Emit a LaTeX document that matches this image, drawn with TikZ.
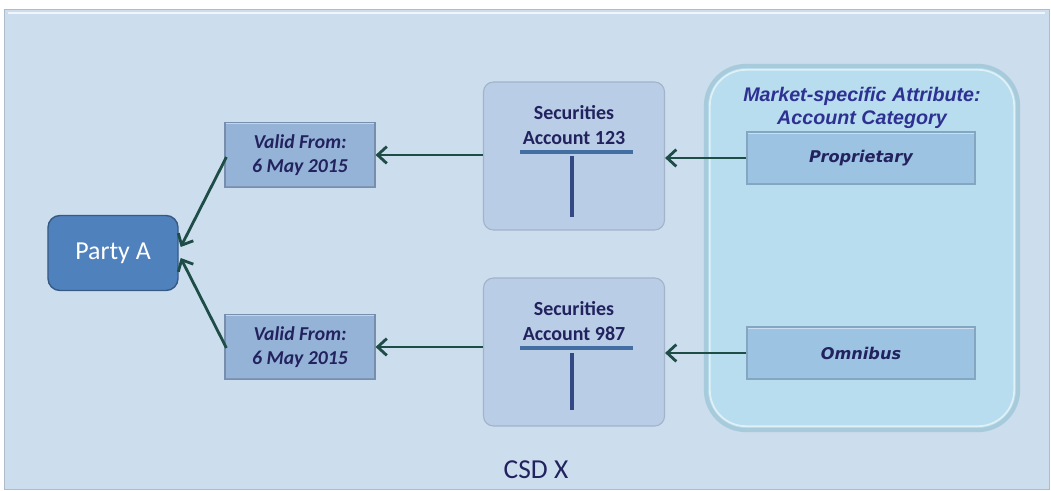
\documentclass[tikz,border=0pt]{standalone}
\usepackage{fontspec}
\setmainfont{Carlito}
\newfontfamily\arialfont{Liberation Sans}
\newfontfamily\verdfont{DejaVu Sans}
\usepackage{xcolor}
\usetikzlibrary{positioning,arrows.meta,calc}

\definecolor{panelbg}{HTML}{CCDDEE}
\definecolor{partyfill}{HTML}{4F81BD}
\definecolor{validfill}{HTML}{95B3D7}
\definecolor{secfill}{HTML}{B9CDE6}
\definecolor{attrfill}{HTML}{B7DDEE}
\definecolor{catfill}{HTML}{9DC3E3}
\definecolor{navytext}{HTML}{22225E}
\definecolor{titletext}{HTML}{2E3192}
\definecolor{arrowcol}{HTML}{1E4D47}

\begin{document}
\begin{tikzpicture}[x=0.025cm, y=-0.025cm,
  conn/.style={line width=2pt, draw=arrowcol, -{Straight Barb[length=6.5pt,width=12pt,line width=2pt]}},
  bevel/.style={path picture={
      \draw[white!45!#1, line width=2.5pt] (path picture bounding box.north west) -- (path picture bounding box.north east);
      \draw[#1!85!black, line width=2pt] (path picture bounding box.south west) -- (path picture bounding box.south east);}},
  validbox/.style={draw=validfill!80!black, fill=validfill, bevel=validfill, line width=0.8pt, minimum width=3.75cm, minimum height=1.625cm, align=center, text=navytext, font=\fontsize{14}{17}\selectfont\bfseries\itshape},
  secbox/.style={draw=secfill!88!black, fill=secfill, line width=0.8pt, rounded corners=0.25cm, minimum width=4.525cm, minimum height=3.7cm},
  seclabel/.style={align=center, text=navytext, font=\fontsize{14.2}{17.8}\selectfont\bfseries},
  catbox/.style={draw=catfill!85!black, fill=catfill, bevel=catfill, line width=0.8pt, minimum width=5.7cm, minimum height=1.3cm, text=navytext, font=\verdfont\fontsize{11.5}{14}\selectfont\bfseries\itshape},
  tbar/.style={line width=3.5pt, draw=partyfill!85!black},
  tstem/.style={line width=3.5pt, draw=navytext!60!partyfill}]

\useasboundingbox (0,0) rectangle (1051,491);

% Panel
\fill[white] (0,0) rectangle (1051,491);
\draw[fill=panelbg, draw=panelbg!85!black, line width=0.6pt] (4,9) rectangle (1049,489);
\draw[white!70!panelbg, line width=2pt] (8,13) -- (1045,13);

% Nodes
\node[draw=partyfill!70!black, fill=partyfill, line width=1pt, rounded corners=0.3cm, minimum width=3.25cm, minimum height=1.875cm, text=white, font=\fontsize{18.4}{22}\selectfont] (party) at (113,253) {Party A};

\node[validbox] (validtop) at (300,155) {Valid From:\\6 May 2015};
\node[validbox] (validbot) at (300,347) {Valid From:\\6 May 2015};

\node[secbox] (sectop) at (574,156) {};
\node[secbox] (secbot) at (574,352) {};
\node[seclabel, below=0.48cm of sectop.north] (sectoplbl) {Securities\\Account 123};
\node[seclabel, below=0.48cm of secbot.north] (secbotlbl) {Securities\\Account 987};

\node[draw=attrfill!92!black, fill=attrfill, line width=3pt, rounded corners=1cm, minimum width=7.8cm, minimum height=9.1cm] (attr) at (862,248) {};
\draw[white!55!attrfill, line width=1.2pt, rounded corners=0.9cm] ($(attr.north west)+(6,6)$) rectangle ($(attr.south east)+(-6,-6)$);
\node[align=center, text=titletext, font=\arialfont\fontsize{14}{17}\selectfont\bfseries\itshape, below=0.45cm of attr.north] (attrlbl) {Market-specific Attribute:\\Account Category};

\node[catbox] (prop) at (861,158) {Proprietary};
\node[catbox] (omni) at (861,353) {Omnibus};

% T-bars of the accounts
\draw[tbar] ($(sectop.center)+(-54,-4)$) -- ++(113,0);
\draw[tstem] ($(sectop.center)+(-2,0)$) -- ++(0,61);
\draw[tbar] ($(secbot.center)+(-54,-4)$) -- ++(113,0);
\draw[tstem] ($(secbot.center)+(-2,1)$) -- ++(0,57);

% Arrows
\draw[conn] (prop.west) -- (prop.west -| sectop.east);
\draw[conn] (omni.west) -- (omni.west -| secbot.east);
\draw[conn] (validtop.east -| sectop.west) -- (validtop.east);
\draw[conn] (validbot.east -| secbot.west) -- (validbot.east);
\draw[conn] ($(validtop.west)+(2,2)$) -- ($(party.east)+(2,-6)$);
\draw[conn] ($(validbot.west)+(2,1)$) -- ($(party.east)+(2,5)$);

% Caption
\node[text=navytext, font=\fontsize{19.5}{22}\selectfont] (csd) at (536,470) {CSD X};

\end{tikzpicture}
\end{document}
